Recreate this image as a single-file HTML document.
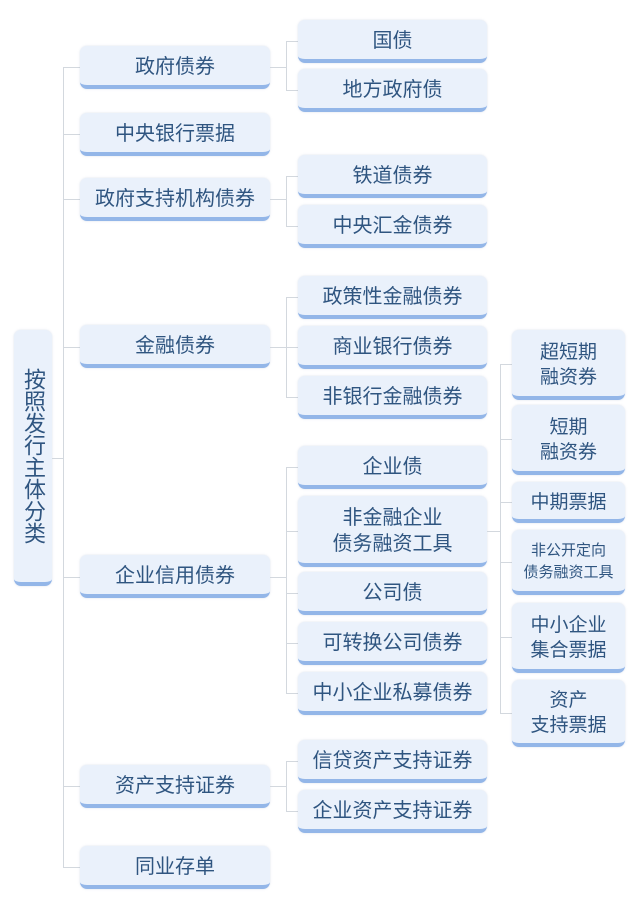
<!DOCTYPE html><html><head><meta charset="utf-8"><style>
body{margin:0;width:640px;height:916px;background:#fff;position:relative;overflow:hidden;font-family:"Liberation Sans","Noto Sans CJK SC",sans-serif;}
.b{position:absolute;box-sizing:border-box;background:#eaf1fb;border-radius:7px;border-bottom:4px solid #93b6e8;color:#2f5580;display:flex;align-items:center;justify-content:center;text-align:center;font-size:20px;line-height:26px;padding-top:3px;box-shadow:0 0 2px rgba(150,170,200,.35);}
.l1{left:80px;width:190px;height:43px}
.l2{left:298px;width:189px;height:43px}
.l3{left:512px;width:113px;font-size:19px;line-height:25px}
.ln{position:absolute;background:#d3d8de}
</style></head><body>
<div class="b" style="left:14px;top:330px;width:38px;height:256px;font-size:22px;line-height:28px;writing-mode:vertical-rl;padding-top:0">按照发行主体分类</div>
<div class="ln" style="left:63px;top:67px;width:1px;height:800px"></div>
<div class="ln" style="left:52px;top:458px;width:11px;height:1px"></div>
<div class="ln" style="left:63px;top:67px;width:17px;height:1px"></div>
<div class="ln" style="left:63px;top:134px;width:17px;height:1px"></div>
<div class="ln" style="left:63px;top:199px;width:17px;height:1px"></div>
<div class="ln" style="left:63px;top:347px;width:17px;height:1px"></div>
<div class="ln" style="left:63px;top:577px;width:17px;height:1px"></div>
<div class="ln" style="left:63px;top:786px;width:17px;height:1px"></div>
<div class="ln" style="left:63px;top:867px;width:17px;height:1px"></div>
<div class="b l1" style="top:46px">政府债券</div>
<div class="b l1" style="top:113px">中央银行票据</div>
<div class="b l1" style="top:178px">政府支持机构债券</div>
<div class="b l1" style="top:325px">金融债券</div>
<div class="b l1" style="top:555px">企业信用债券</div>
<div class="b l1" style="top:765px">资产支持证券</div>
<div class="b l1" style="top:846px">同业存单</div>
<div class="ln" style="left:270px;top:67px;width:16px;height:1px"></div>
<div class="ln" style="left:286px;top:41px;width:1px;height:50px"></div>
<div class="ln" style="left:286px;top:41px;width:12px;height:1px"></div>
<div class="ln" style="left:286px;top:90px;width:12px;height:1px"></div>
<div class="ln" style="left:270px;top:199px;width:16px;height:1px"></div>
<div class="ln" style="left:286px;top:176px;width:1px;height:50px"></div>
<div class="ln" style="left:286px;top:176px;width:12px;height:1px"></div>
<div class="ln" style="left:286px;top:226px;width:12px;height:1px"></div>
<div class="ln" style="left:270px;top:347px;width:16px;height:1px"></div>
<div class="ln" style="left:286px;top:297px;width:1px;height:100px"></div>
<div class="ln" style="left:286px;top:297px;width:12px;height:1px"></div>
<div class="ln" style="left:286px;top:347px;width:12px;height:1px"></div>
<div class="ln" style="left:286px;top:397px;width:12px;height:1px"></div>
<div class="ln" style="left:270px;top:577px;width:16px;height:1px"></div>
<div class="ln" style="left:286px;top:467px;width:1px;height:227px"></div>
<div class="ln" style="left:286px;top:467px;width:12px;height:1px"></div>
<div class="ln" style="left:286px;top:531px;width:12px;height:1px"></div>
<div class="ln" style="left:286px;top:593px;width:12px;height:1px"></div>
<div class="ln" style="left:286px;top:643px;width:12px;height:1px"></div>
<div class="ln" style="left:286px;top:693px;width:12px;height:1px"></div>
<div class="ln" style="left:270px;top:786px;width:16px;height:1px"></div>
<div class="ln" style="left:286px;top:761px;width:1px;height:50px"></div>
<div class="ln" style="left:286px;top:761px;width:12px;height:1px"></div>
<div class="ln" style="left:286px;top:811px;width:12px;height:1px"></div>
<div class="b l2" style="top:20px">国债</div>
<div class="b l2" style="top:69px">地方政府债</div>
<div class="b l2" style="top:155px">铁道债券</div>
<div class="b l2" style="top:205px">中央汇金债券</div>
<div class="b l2" style="top:276px">政策性金融债券</div>
<div class="b l2" style="top:326px">商业银行债券</div>
<div class="b l2" style="top:376px">非银行金融债券</div>
<div class="b l2" style="top:446px">企业债</div>
<div class="b l2" style="top:496px;height:71px">非金融企业<br>债务融资工具</div>
<div class="b l2" style="top:572px">公司债</div>
<div class="b l2" style="top:622px">可转换公司债券</div>
<div class="b l2" style="top:672px">中小企业私募债券</div>
<div class="b l2" style="top:740px">信贷资产支持证券</div>
<div class="b l2" style="top:790px">企业资产支持证券</div>
<div class="ln" style="left:487px;top:531px;width:13px;height:1px"></div>
<div class="ln" style="left:500px;top:364px;width:1px;height:350px"></div>
<div class="ln" style="left:500px;top:364px;width:12px;height:1px"></div>
<div class="ln" style="left:500px;top:439px;width:12px;height:1px"></div>
<div class="ln" style="left:500px;top:502px;width:12px;height:1px"></div>
<div class="ln" style="left:500px;top:562px;width:12px;height:1px"></div>
<div class="ln" style="left:500px;top:637px;width:12px;height:1px"></div>
<div class="ln" style="left:500px;top:713px;width:12px;height:1px"></div>
<div class="b l3" style="top:330px;height:70px">超短期<br>融资券</div>
<div class="b l3" style="top:405px;height:70px">短期<br>融资券</div>
<div class="b l3" style="top:482px;height:41px">中期票据</div>
<div class="b l3" style="top:530px;height:65px;font-size:15px;line-height:22px">非公开定向<br>债务融资工具</div>
<div class="b l3" style="top:603px;height:70px">中小企业<br>集合票据</div>
<div class="b l3" style="top:680px;height:67px">资产<br>支持票据</div>
</body></html>
